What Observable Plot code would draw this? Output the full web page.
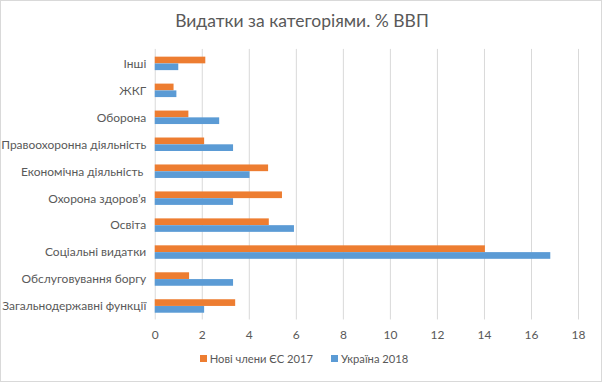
<!DOCTYPE html>
<html>
<head>
<meta charset="utf-8">
<script src="https://cdn.jsdelivr.net/npm/d3@7"></script>
<script src="https://cdn.jsdelivr.net/npm/@observablehq/plot@0.6"></script>
<style>
  html, body { margin: 0; padding: 0; background: #fff; }
  #wrap { position: relative; width: 602px; height: 382px; box-sizing: border-box; border: 1px solid #d9d9d9; overflow: hidden; font-family: Lato, "Noto Sans", sans-serif; }
  #title { position: absolute; top: 9px; left: 0; width: 602px; text-align: center; font-size: 17.5px; color: #595959; }
  #chart { position: absolute; top: -1px; left: -1px; }
  #legend { position: absolute; top: 351px; left: 2px; width: 602px; display: flex; justify-content: center; gap: 18px; font-size: 11.2px; color: #595959; }
  .item { display: flex; align-items: center; gap: 3px; }
  .sw { width: 7px; height: 7px; display: inline-block; }
</style>
</head>
<body>
<div id="wrap">
  <div id="title"></div>
  <div id="chart"></div>
  <div id="legend"></div>
</div>
<script>
const titleText = "Видатки за категоріями. % ВВП";
const categories = ["Інші", "ЖКГ", "Оборона", "Правоохоронна діяльність", "Економічна діяльність\u00a0", "Охорона здоров’я", "Освіта", "Соціальні видатки", "Обслуговування боргу", "Загальнодержавні функції"];
const seriesNames = ["Нові члени ЄС 2017", "Україна 2018"];
const euNew2017 = [2.15, 0.8, 1.43, 2.1, 4.82, 5.41, 4.85, 14.04, 1.46, 3.42];
const ukraine2018 = [1.0, 0.92, 2.74, 3.33, 4.03, 3.33, 5.92, 16.82, 3.33, 2.1];
const xTicks = [0, 2, 4, 6, 8, 10, 12, 14, 16, 18];
const colors = ["#ED7D31", "#5B9BD5"];

const rowsEU = categories.map((c, i) => ({category: c, value: euNew2017[i], series: seriesNames[0]}));
const rowsUA = categories.map((c, i) => ({category: c, value: ukraine2018[i], series: seriesNames[1]}));

const H = 350, mTop = 49, mBottom = 30;
const band = (H - mTop - mBottom) / categories.length;
const barT = 6.8;
const outer = band / 2 - barT, inner = band / 2;

const chart = Plot.plot({
  width: 602,
  height: H,
  marginTop: mTop,
  marginBottom: mBottom,
  marginLeft: 155,
  marginRight: 23,
  style: {fontFamily: "Lato, 'Noto Sans', sans-serif", fontSize: "12px", color: "#595959", background: "transparent"},
  x: {domain: [0, 18], ticks: xTicks, label: null, tickSize: 0, tickPadding: 11},
  y: {domain: categories, padding: 0, label: null, tickSize: 0, tickPadding: 9},
  marks: [
    Plot.ruleX(xTicks, {stroke: "#d9d9d9", strokeOpacity: 1}),
    Plot.barX(rowsEU, {x: "value", y: "category", fill: colors[0], insetTop: outer, insetBottom: inner}),
    Plot.barX(rowsUA, {x: "value", y: "category", fill: colors[1], insetTop: inner, insetBottom: outer})
  ]
});
document.getElementById("chart").appendChild(chart);
document.getElementById("title").textContent = titleText;
const legend = document.getElementById("legend");
seriesNames.forEach((s, i) => {
  const it = document.createElement("div");
  it.className = "item";
  it.innerHTML = `<span class="sw" style="background:${colors[i]}"></span><span>${s}</span>`;
  legend.appendChild(it);
});
</script>
</body>
</html>
